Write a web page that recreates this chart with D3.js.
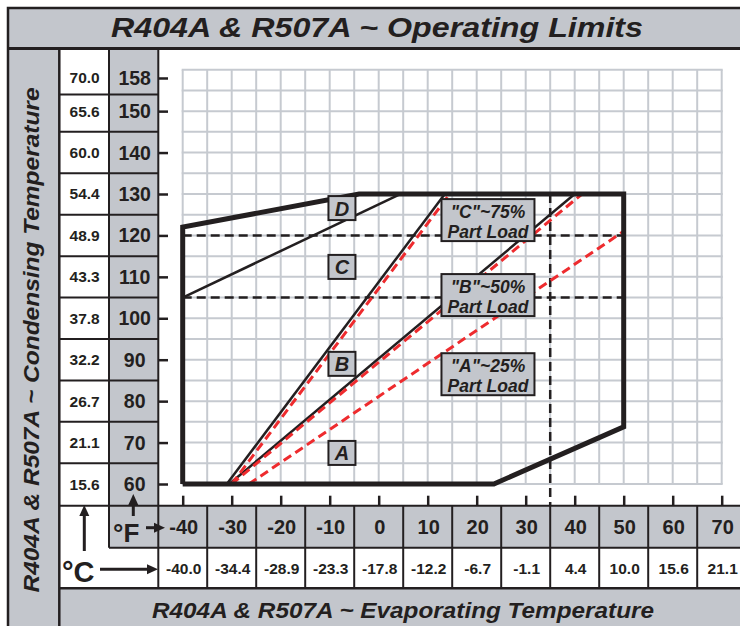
<!DOCTYPE html>
<html><head><meta charset="utf-8">
<script src="https://cdn.jsdelivr.net/npm/d3@7"></script>
<style>
html,body{margin:0;padding:0;background:#fff;}
svg{display:block;}
text{font-family:"Liberation Sans",Arial,Helvetica,sans-serif;font-weight:bold;fill:#231f20;}
</style></head>
<body>
<script>
// ---------- DATA ----------
const title = "R404A & R507A ~ Operating Limits";
const yTitle = "R404A & R507A ~ Condensing Temperature";
const xTitle = "R404A & R507A ~ Evaporating Temperature";

const xTicksF = [-40,-30,-20,-10,0,10,20,30,40,50,60,70];
const xLabelsC = ["-40.0","-34.4","-28.9","-23.3","-17.8","-12.2","-6.7","-1.1","4.4","10.0","15.6","21.1"];
const yTicksF = [60,70,80,90,100,110,120,130,140,150,158];
const yLabelsC = ["15.6","21.1","26.7","32.2","37.8","43.3","48.9","54.4","60.0","65.6","70.0"];

// operating envelope (evap °F, cond °F)
const envelope = [[-40,60],[23.5,60],[50,73.8],[50,130],[-4,130],[-40,122],[-40,60]];
// solid boundary lines
const lineCD = [[-40,105],[4.5,130]];
const lineBC = [[-31,60],[13.5,130]];
const lineAB = [[-30.5,60],[40,130]];
// part-load red dashed lines
const red75 = [[-30,60],[14.5,130]];
const red50 = [[-30,60],[41.5,130]];
const red25 = [[-26.5,60],[50,121]];
// black dashed reference lines
const dash120 = [[-40,120],[50,120]];
const dash105 = [[-40,105],[50,105]];
const dashEvap = 35;  // vertical dashed at 35 °F, from 130 down

const zoneLabels = [
  {t:"D", x:-7.5, y:126.6},
  {t:"C", x:-7.5, y:112.4},
  {t:"B", x:-7.5, y:89.0},
  {t:"A", x:-7.5, y:67.5}
];
const partLoad = [
  {t1:"\"C\"~75%", t2:"Part Load", x:22.3, y:123.7},
  {t1:"\"B\"~50%", t2:"Part Load", x:22.3, y:105.6},
  {t1:"\"A\"~25%", t2:"Part Load", x:22.3, y:86.5}
];

// ---------- LAYOUT ----------
const W = 740, H = 626;
const GREY = "#c3c6cc", GRID = "#c6cad0", INK = "#231f20", RED = "#ee2b2e";
const svg = d3.select("body").append("svg").attr("width",W).attr("height",H);

const x = d3.scaleLinear().domain([-40,70]).range([182.7,721.7]);
const y = d3.scaleLinear().domain([60,160]).range([484,69.7]);

const frameL = 8, frameT = 8, titleB = 48.5, bandR = 59.3, colC = 109, colF = 158.3;
const xRowTop = 505.7, xRowMid = 547.7, xRowBot = 588.3;

// background bands
svg.append("rect").attr("x",frameL).attr("y",frameT).attr("width",W).attr("height",titleB-frameT).attr("fill",GREY);
svg.append("rect").attr("x",frameL).attr("y",titleB).attr("width",bandR-frameL).attr("height",H).attr("fill",GREY);
svg.append("rect").attr("x",bandR).attr("y",xRowBot).attr("width",W).attr("height",H).attr("fill",GREY);
// °F column (grey)
svg.append("rect").attr("x",colC).attr("y",titleB).attr("width",colF-colC).attr("height",xRowMid-titleB).attr("fill",GREY);
// °F row (grey)
svg.append("rect").attr("x",colC).attr("y",xRowTop).attr("width",W).attr("height",xRowMid-xRowTop).attr("fill",GREY);

// y-table row boundaries
const yRowBounds = [];
for(let i=0;i<yTicksF.length-1;i++){ yRowBounds.push((y(yTicksF[i])+y(yTicksF[i+1]))/2); }
const tbl = svg.append("g").attr("stroke",INK).attr("stroke-width",2);
tbl.selectAll("line.yr").data(yRowBounds).join("line")
  .attr("x1",bandR).attr("x2",colF).attr("y1",d=>d).attr("y2",d=>d);
tbl.append("line").attr("x1",colC).attr("x2",colC).attr("y1",titleB).attr("y2",xRowMid);
tbl.append("line").attr("x1",colF).attr("x2",colF).attr("y1",titleB).attr("y2",xRowBot);
tbl.append("line").attr("x1",bandR).attr("x2",W).attr("y1",xRowTop).attr("y2",xRowTop);
tbl.append("line").attr("x1",colC).attr("x2",W).attr("y1",xRowMid).attr("y2",xRowMid);
// x-table column boundaries
const xColBounds = xTicksF.map(d=>x(d+5));
tbl.selectAll("line.xc").data(xColBounds).join("line")
  .attr("x1",d=>d).attr("x2",d=>d).attr("y1",xRowTop).attr("y2",xRowBot);
// heavy lines
svg.append("line").attr("x1",bandR).attr("x2",W).attr("y1",xRowBot).attr("y2",xRowBot).attr("stroke",INK).attr("stroke-width",2.5);
svg.append("line").attr("x1",bandR).attr("x2",bandR).attr("y1",titleB).attr("y2",H).attr("stroke",INK).attr("stroke-width",2.5);
svg.append("line").attr("x1",frameL).attr("x2",W).attr("y1",titleB).attr("y2",titleB).attr("stroke",INK).attr("stroke-width",3);
svg.append("rect").attr("x",frameL).attr("y",frameT).attr("width",W+10).attr("height",H+10)
  .attr("fill","none").attr("stroke",INK).attr("stroke-width",2.5);

// y table labels
svg.selectAll("text.yc").data(yTicksF).join("text")
  .attr("x",(bandR+colC)/2+0.5).attr("y",d=>y(d)+5.5).attr("text-anchor","middle")
  .attr("font-size",15.5).text((d,i)=>yLabelsC[i]);
svg.selectAll("text.yf").data(yTicksF).join("text")
  .attr("x",(colC+colF)/2+1).attr("y",d=>y(d)+7).attr("text-anchor","middle")
  .attr("font-size",19.5).text(d=>d);
// x table labels
svg.selectAll("text.xf").data(xTicksF).join("text")
  .attr("x",d=>x(d)+1).attr("y",(xRowTop+xRowMid)/2+7).attr("text-anchor","middle")
  .attr("font-size",20).text(d=>d);
svg.selectAll("text.xc").data(xTicksF).join("text")
  .attr("x",d=>x(d)+1).attr("y",(xRowMid+xRowBot)/2+5.5).attr("text-anchor","middle")
  .attr("font-size",15.5).text((d,i)=>xLabelsC[i]);

// titles
svg.append("text").attr("x",377).attr("y",37).attr("text-anchor","middle")
  .attr("font-size",27.5).attr("font-style","italic")
  .attr("textLength",532).attr("lengthAdjust","spacingAndGlyphs").text(title);
svg.append("text").attr("x",403).attr("y",618).attr("text-anchor","middle")
  .attr("font-size",21.5).attr("font-style","italic")
  .attr("textLength",502).attr("lengthAdjust","spacingAndGlyphs").text(xTitle);
svg.append("text").attr("transform","translate(39,340) rotate(-90)").attr("text-anchor","middle")
  .attr("font-size",21.5).attr("font-style","italic")
  .attr("textLength",505).attr("lengthAdjust","spacingAndGlyphs").text(yTitle);

// unit markers and arrows
function arrow(x1,y1,x2,y2){
  const a = Math.atan2(y2-y1,x2-x1), L=11, Wd=5;
  const bx = x2-L*Math.cos(a), by = y2-L*Math.sin(a);
  svg.append("line").attr("x1",x1).attr("y1",y1).attr("x2",bx).attr("y2",by)
    .attr("stroke",INK).attr("stroke-width",3);
  svg.append("path").attr("d",`M${x2},${y2}L${bx+Wd*Math.sin(a)},${by-Wd*Math.cos(a)}L${bx-Wd*Math.sin(a)},${by+Wd*Math.cos(a)}Z`)
    .attr("fill",INK);
}
svg.append("text").attr("x",62).attr("y",582).attr("font-size",29).text("°C");
arrow(100,569.3,158,569.3);
arrow(84.3,551,84.3,505);
svg.append("text").attr("x",113).attr("y",542).attr("font-size",26).text("°F");
arrow(146,527.7,165,527.7);
arrow(133.3,516,133.3,494);

// ---------- PLOT ----------
const plot = svg.append("g");
// grid
const gx = d3.range(-40,70.1,5), gy = d3.range(60,160.1,5);
plot.selectAll("line.gx").data(gx).join("line")
  .attr("x1",d=>x(d)).attr("x2",d=>x(d)).attr("y1",y(60)).attr("y2",y(160))
  .attr("stroke",GRID).attr("stroke-width",2);
plot.selectAll("line.gy").data(gy).join("line")
  .attr("x1",x(-40)-1).attr("x2",x(70)+1).attr("y1",d=>y(d)).attr("y2",d=>y(d))
  .attr("stroke",GRID).attr("stroke-width",2);

// axes ticks
const yAxis = d3.axisLeft(y).tickValues(yTicksF).tickSize(10).tickFormat("");
const ya = svg.append("g").attr("transform","translate(168,0)").call(yAxis);
ya.select(".domain").remove();
ya.selectAll("line").attr("stroke",INK).attr("stroke-width",2.5);
const xAxis = d3.axisTop(x).tickValues(xTicksF).tickSize(10).tickFormat("");
const xa = svg.append("g").attr("transform",`translate(0,${xRowTop})`).call(xAxis);
xa.select(".domain").remove();
xa.selectAll("line").attr("stroke",INK).attr("stroke-width",2.5);

const line = d3.line().x(d=>x(d[0])).y(d=>y(d[1]));
// dashed black reference lines
[dash120,dash105].forEach(d=>plot.append("path").attr("d",line(d)).attr("fill","none")
  .attr("stroke",INK).attr("stroke-width",2.5).attr("stroke-dasharray","9,5"));
plot.append("line").attr("x1",x(dashEvap)).attr("x2",x(dashEvap)).attr("y1",y(130)).attr("y2",xRowTop)
  .attr("stroke",INK).attr("stroke-width",2.5).attr("stroke-dasharray","9,5");

// solid boundary lines
[lineCD,lineBC,lineAB].forEach(d=>plot.append("path").attr("d",line(d)).attr("fill","none")
  .attr("stroke",INK).attr("stroke-width",2.5));
// red dashed part load lines
[red75,red50,red25].forEach(d=>plot.append("path").attr("d",line(d)).attr("fill","none")
  .attr("stroke",RED).attr("stroke-width",3).attr("stroke-dasharray","9,5"));
// envelope
plot.append("path").attr("d",line(envelope)).attr("fill","none")
  .attr("stroke",INK).attr("stroke-width",5).attr("stroke-linejoin","miter");

// zone labels
const zl = plot.selectAll("g.zl").data(zoneLabels).join("g")
  .attr("transform",d=>`translate(${x(d.x)},${y(d.y)})`);
zl.append("rect").attr("x",-13.5).attr("y",-12).attr("width",27).attr("height",24)
  .attr("fill",GREY).attr("stroke",INK).attr("stroke-width",2);
zl.append("text").attr("text-anchor","middle").attr("y",7.5).attr("font-size",20)
  .attr("font-style","italic").text(d=>d.t);

const pl = plot.selectAll("g.pl").data(partLoad).join("g")
  .attr("transform",d=>`translate(${x(d.x)},${y(d.y)})`);
pl.append("rect").attr("x",-46.5).attr("y",-21).attr("width",93).attr("height",42)
  .attr("fill",GREY).attr("stroke",INK).attr("stroke-width",2);
pl.append("text").attr("text-anchor","middle").attr("y",-2.5).attr("font-size",17.5)
  .attr("font-style","italic").text(d=>d.t1);
pl.append("text").attr("text-anchor","middle").attr("y",17.5).attr("font-size",17.5)
  .attr("font-style","italic").text(d=>d.t2);
</script>
</body></html>
